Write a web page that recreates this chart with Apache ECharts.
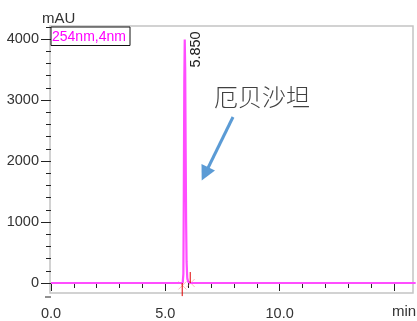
<!DOCTYPE html>
<html>
<head>
<meta charset="utf-8">
<style>
  html, body { margin: 0; padding: 0; background: #fff; }
  #chart { width: 417px; height: 321px; }
</style>
<script src="https://cdn.jsdelivr.net/npm/echarts@6/dist/echarts.min.js"></script>
</head>
<body>
<div id="chart"></div>
<script>
// Chromatogram trace (time in min, absorbance in mAU)
const retentionTime = [0, 5.76, 5.79, 5.81, 5.83, 5.85, 5.87, 5.89, 5.91, 5.93, 5.96, 6.00, 6.05, 6.10, 15.95];
const absorbance    = [0, 0,    150,  1500, 3300, 3990, 3500, 2200, 1000, 350,  80,   20,   5,    0,    0];

// Detected peak
const peakTimes = [5.850];
const peakHeights = [3990];

// Integration baseline start / end marks
const integStart = 5.74;
const integEnd = 6.09;

// Axis ticks and labels
const yMajorTicks = [0, 1000, 2000, 3000, 4000];
const yMinorTicks = [0, 200, 400, 600, 800, 1000, 1200, 1400, 1600, 1800, 2000, 2200, 2400, 2600, 2800, 3000, 3200, 3400, 3600, 3800, 4000, 4200];
const xMajorTicks = [0, 5, 10, 15];
const xMinorTicks = [1, 2, 3, 4, 6, 7, 8, 9, 11, 12, 13, 14, 16];
const xLabels = [0, 5, 10];

const channelName = '254nm,4nm';
const compoundName = '厄贝沙坦';

const FONT = '"Liberation Sans", Arial, sans-serif';
const TXT = '#333';
const TRACE = '#ff4dff';

const chart = echarts.init(document.getElementById('chart'), null, { renderer: 'canvas' });

const gridTop = 26.8, gridBottomY = 283;

function txt(x, y, text, size, color, extra) {
  return {
    type: 'text', x: x, y: y, z: 6,
    style: Object.assign({ text: text, fill: color, fontSize: size, fontFamily: FONT, verticalAlign: 'middle' }, extra || {})
  };
}

chart.setOption({
  animation: false,
  backgroundColor: '#fff',
  grid: { left: 51, right: 0.2, top: gridTop, height: gridBottomY - gridTop, containLabel: false },
  xAxis: [
    {
      type: 'value', min: 0, max: 16, position: 'bottom', offset: 14,
      axisLine: { show: false }, splitLine: { show: false },
      axisTick: { show: true, length: 8, customValues: xMajorTicks, lineStyle: { color: '#222', width: 1 } },
      axisLabel: { show: true, customValues: xLabels, margin: 9, color: TXT, fontSize: 14.5, fontFamily: FONT,
                   formatter: v => v.toFixed(1) }
    },
    {
      type: 'value', min: 0, max: 16, position: 'bottom', offset: 14,
      axisLine: { show: false }, splitLine: { show: false },
      axisTick: { show: true, length: 5, customValues: xMinorTicks, lineStyle: { color: '#222', width: 1 } },
      axisLabel: { show: false }
    }
  ],
  yAxis: [
    {
      type: 'value', min: 0, max: 4200, position: 'left', offset: 1,
      axisLine: { show: false }, splitLine: { show: false },
      axisTick: { show: true, length: 10, customValues: yMajorTicks, lineStyle: { color: '#222', width: 1 } },
      axisLabel: { show: true, customValues: yMajorTicks, margin: 11, color: TXT, fontSize: 14.5, fontFamily: FONT,
                   formatter: v => String(v) }
    },
    {
      type: 'value', min: 0, max: 4200, position: 'left', offset: 1,
      axisLine: { show: false }, splitLine: { show: false },
      axisTick: { show: true, length: 5, customValues: yMinorTicks, lineStyle: { color: '#222', width: 1 } },
      axisLabel: { show: false }
    }
  ],
  graphic: [
    // plot frame
    { type: 'rect', shape: { x: 50, y: 26, width: 363, height: 267 }, z: 0,
      style: { fill: 'none', stroke: '#c4c4c4', lineWidth: 1.5 } },
    // hook at the start of the time axis
    { type: 'polyline', shape: { points: [[45, 297], [51, 297]] }, style: { stroke: '#222', lineWidth: 1 } },
    // channel box
    { type: 'rect', shape: { x: 51, y: 27, width: 79, height: 18.5 }, z: 5,
      style: { fill: '#fff', stroke: '#111', lineWidth: 1 } },
    txt(52, 37, channelName, 14, '#ff00ff'),
    // axis titles
    txt(42, 18.5, 'mAU', 15, TXT),
    txt(404, 312, 'min', 15, TXT, { align: 'center' }),
    // compound annotation
    txt(214, 97, compoundName, 24, '#404040', { fontFamily: '"Noto Sans CJK SC", sans-serif', fontWeight: 300 }),
    { type: 'line', z: 6, shape: { x1: 233, y1: 117, x2: 207, y2: 170 },
      style: { stroke: '#5b9bd5', lineWidth: 3 } },
    { type: 'polygon', z: 6, shape: { points: [[201.7, 180.5], [215, 170.5], [201.5, 164]] },
      style: { fill: '#5b9bd5' } }
  ],
  series: [
    {
      type: 'line', name: channelName, xAxisIndex: 0, yAxisIndex: 0,
      data: retentionTime.map((t, i) => [t, absorbance[i]]),
      showSymbol: false, clip: false, z: 3,
      lineStyle: { color: TRACE, width: 2.2 }
    },
    {
      type: 'line', xAxisIndex: 0, yAxisIndex: 0, clip: false, showSymbol: false, z: 4,
      data: [[integStart, 0], [integStart, -215]],
      lineStyle: { color: '#e00000', width: 1 }
    },
    {
      type: 'line', xAxisIndex: 0, yAxisIndex: 0, clip: false, showSymbol: false, z: 4,
      data: [[integEnd, 0], [integEnd, 180]],
      lineStyle: { color: '#e00000', width: 1 }
    },
    {
      type: 'scatter', xAxisIndex: 0, yAxisIndex: 0, clip: false, z: 2,
      symbol: 'path://M0,0L10,10M10,0L0,10', symbolSize: 8,
      data: [[integStart + 0.01, -40], [integEnd + 0.02, 0]],
      itemStyle: { color: 'none', borderColor: 'rgba(255,110,110,0.6)', borderWidth: 1 }
    }
  ]
});

// Retention-time label beside each peak apex, reading upward
const peakLabels = peakTimes.map((t, i) => {
  const p = chart.convertToPixel({ xAxisIndex: 0, yAxisIndex: 0 }, [t, peakHeights[i]]);
  return {
    type: 'text', x: p[0] + 11, y: p[1] + 28, rotation: Math.PI / 2, z: 6,
    style: { text: t.toFixed(3), fill: '#222', fontSize: 14.5, fontFamily: FONT, align: 'left', verticalAlign: 'middle' }
  };
});
const existing = chart.getOption().graphic[0].elements.map(() => ({}));
chart.setOption({ graphic: existing.concat(peakLabels) });
</script>
</body>
</html>
